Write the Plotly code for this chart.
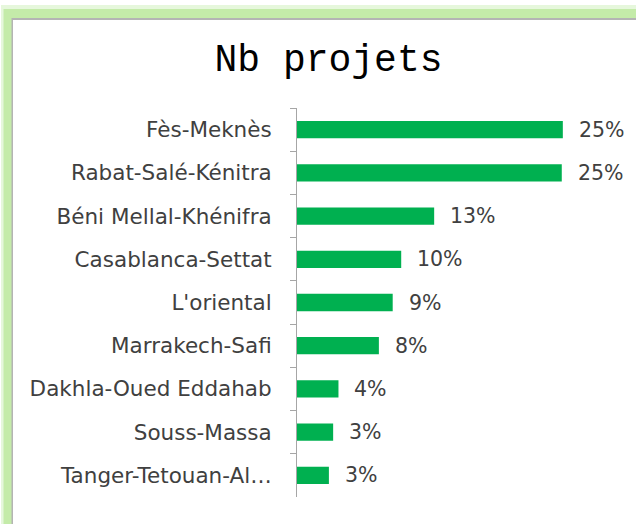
import plotly.graph_objects as go

regions = ["Fès-Meknès", "Rabat-Salé-Kénitra", "Béni Mellal-Khénifra", "Casablanca-Settat",
           "L'oriental", "Marrakech-Safi", "Dakhla-Oued Eddahab", "Souss-Massa", "Tanger-Tetouan-Al…"]
share_pct = [25.0, 24.9, 12.9, 9.8, 9.0, 7.7, 3.9, 3.4, 3.0]
title_text = "Nb projets"

W, H = 636, 524
L, R, T, B = 297, 20, 108, 27
PW, PH = W - L - R, H - T - B

def px_x(p):
    return (p - L) / PW

def px_y(p):
    return (H - B - p) / PH

TICK_FONT = dict(family="'DejaVu Sans', sans-serif", size=21.5, color="#404040")
VALUE_FONT = dict(family="'DejaVu Sans', sans-serif", size=20.5, color="#404040")

fig = go.Figure()
fig.add_trace(go.Bar(
    y=regions, x=share_pct, orientation="h",
    marker=dict(color="#00b050", line=dict(width=0)),
    hoverinfo="skip",
))

for r, v in zip(regions, share_pct):
    fig.add_annotation(x=v, y=r, xref="x", yref="y", text=f"{v:.0f}%",
                       showarrow=False, xanchor="left", xshift=14,
                       font=VALUE_FONT)

shapes = [
    dict(type="rect", xref="paper", yref="paper", layer="below",
         x0=px_x(1), x1=px_x(700), y0=px_y(5), y1=px_y(700),
         fillcolor="#e6f7dc", line=dict(width=0)),
    dict(type="rect", xref="paper", yref="paper", layer="below",
         x0=px_x(3.5), x1=px_x(700), y0=px_y(9), y1=px_y(700),
         fillcolor="#c4eba9", line=dict(width=0)),
    dict(type="rect", xref="paper", yref="paper", layer="below",
         x0=px_x(11.5), x1=px_x(700), y0=px_y(18), y1=px_y(700),
         fillcolor="#b4b4b4", line=dict(width=0)),
    dict(type="rect", xref="paper", yref="paper", layer="below",
         x0=px_x(13), x1=px_x(700), y0=px_y(20), y1=px_y(700),
         fillcolor="#ffffff", line=dict(width=0)),
]

fig.update_layout(
    width=W, height=H,
    margin=dict(l=L, r=R, t=T, b=B, pad=0),
    paper_bgcolor="#ffffff",
    plot_bgcolor="rgba(0,0,0,0)",
    showlegend=False,
    bargap=0.6,
    shapes=shapes,
    title=dict(text=title_text, x=328.5 / W, xref="container", xanchor="center",
               y=1 - 58 / H, yref="container", yanchor="middle",
               font=dict(family="'Liberation Mono', monospace", size=38, color="#000000")),
    xaxis=dict(range=[0, 30], visible=False, fixedrange=True),
    yaxis=dict(
        type="category", autorange="reversed",
        showline=True, linecolor="#a6a6a6", linewidth=1,
        ticks="outside", tickson="boundaries", ticklen=6, tickcolor="#a6a6a6",
        ticklabelstandoff=20,
        tickfont=TICK_FONT, showgrid=False, zeroline=False, fixedrange=True,
    ),
)

fig.write_html("out.html", config={"displayModeBar": False},
               post_script="document.body.style.margin='0';document.body.style.overflow='hidden';")
